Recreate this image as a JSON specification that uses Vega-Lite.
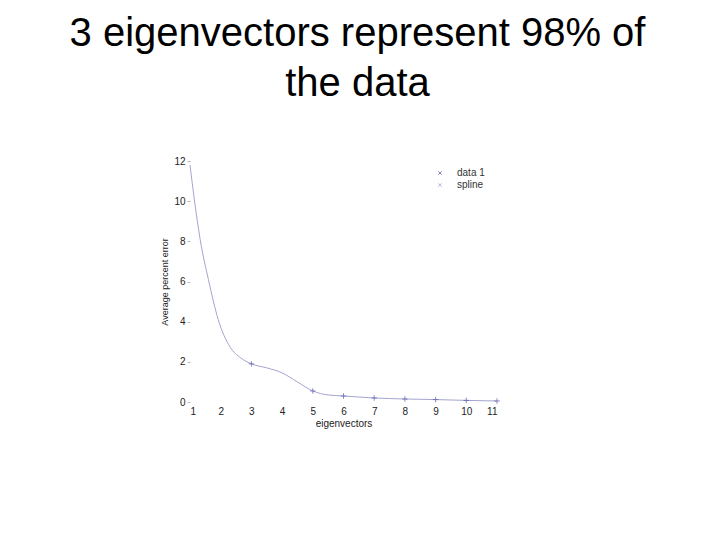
{
  "$schema": "https://vega.github.io/schema/vega-lite/v6.json",
  "width": 307,
  "height": 241,
  "autosize": "none",
  "padding": {"left": 190, "top": 161, "right": 223, "bottom": 138},
  "background": "white",
  "config": {
    "font": "Liberation Sans",
    "view": {"stroke": null}
  },
  "title": {
    "text": ["3 eigenvectors represent 98% of", "the data"],
    "fontSize": 40,
    "fontWeight": "normal",
    "color": "black",
    "anchor": "middle",
    "frame": "group",
    "dx": 14,
    "lineHeight": 50,
    "offset": 52
  },
  "datasets": {
    "spline": [
      {"x": 1, "y": 11.8},
      {"x": 1.14, "y": 10.1},
      {"x": 1.33, "y": 8.1},
      {"x": 1.6, "y": 6.1},
      {"x": 1.92, "y": 4.1},
      {"x": 2.3, "y": 2.75},
      {"x": 2.65, "y": 2.2},
      {"x": 3, "y": 1.9},
      {"x": 3.5, "y": 1.7},
      {"x": 4, "y": 1.45},
      {"x": 4.5, "y": 1.0},
      {"x": 5, "y": 0.55},
      {"x": 5.5, "y": 0.35},
      {"x": 6, "y": 0.3},
      {"x": 7, "y": 0.2},
      {"x": 8, "y": 0.15},
      {"x": 9, "y": 0.12},
      {"x": 10, "y": 0.08},
      {"x": 11, "y": 0.05}
    ],
    "points": [
      {"x": 3, "y": 1.9},
      {"x": 5, "y": 0.55},
      {"x": 6, "y": 0.3},
      {"x": 7, "y": 0.2},
      {"x": 8, "y": 0.15},
      {"x": 9, "y": 0.12},
      {"x": 10, "y": 0.08},
      {"x": 11, "y": 0.05}
    ]
  },
  "encoding": {
    "x": {
      "field": "x",
      "type": "quantitative",
      "scale": {"domain": [1, 11], "nice": false},
      "axis": {
        "values": [1, 2, 3, 4, 5, 6, 7, 8, 9, 10, 11],
        "title": "eigenvectors",
        "grid": false,
        "domain": false,
        "ticks": false,
        "labelFontSize": 10,
        "labelColor": "#222",
        "labelPadding": 4,
        "titleFontSize": 10,
        "titleFontWeight": "normal",
        "titleColor": "#222",
        "titlePadding": 2
      }
    },
    "y": {
      "field": "y",
      "type": "quantitative",
      "scale": {"domain": [0, 12], "nice": false},
      "axis": {
        "values": [0, 2, 4, 6, 8, 10, 12],
        "title": "Average percent error",
        "grid": false,
        "domain": false,
        "tickSize": 3,
        "tickColor": "#bbb",
        "labelFontSize": 10,
        "labelColor": "#222",
        "labelPadding": 2,
        "titleFontSize": 9,
        "titleFontWeight": "normal",
        "titleColor": "#222",
        "titlePadding": 4
      }
    },
    "color": {
      "scale": {"domain": ["data 1", "spline"], "range": ["#5858a8", "#a4a4d0"]},
      "legend": {
        "title": null,
        "orient": "none",
        "legendX": 245,
        "legendY": 7,
        "symbolType": "M-1,-1L1,1M-1,1L1,-1",
        "symbolSize": 12,
        "symbolStrokeWidth": 1,
        "symbolFillColor": "transparent",
        "labelFontSize": 10,
        "labelColor": "#333",
        "labelOffset": 12,
        "rowPadding": 2
      }
    }
  },
  "layer": [
    {
      "data": {"name": "spline"},
      "mark": {"type": "line", "interpolate": "monotone", "strokeWidth": 1},
      "encoding": {"color": {"datum": "spline"}}
    },
    {
      "data": {"name": "points"},
      "mark": {"type": "point", "shape": "M-1,0L1,0M0,-1L0,1", "size": 30, "strokeWidth": 1},
      "encoding": {"color": {"datum": "data 1"}}
    }
  ]
}
